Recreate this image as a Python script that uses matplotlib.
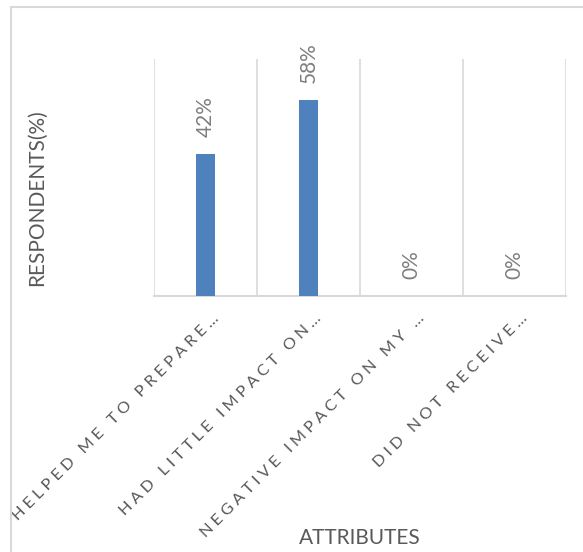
import matplotlib
matplotlib.use("Agg")
import matplotlib.pyplot as plt
from matplotlib.lines import Line2D
from matplotlib.transforms import ScaledTranslation

plt.rcParams['font.family'] = ['Lato', 'DejaVu Sans']

# Survey results
categories = [
    "HELPED ME TO PREPARE…",
    "HAD LITTLE IMPACT ON…",
    "NEGATIVE IMPACT ON MY …",
    "DID NOT RECEIVE…",
]
values = [42, 58, 0, 0]
value_labels = ["42%", "58%", "0%", "0%"]
y_max = 70

W, H = 583, 552
fig = plt.figure(figsize=(W / 100, H / 100), dpi=100)
fig.patch.set_facecolor("white")

# Chart-area frame (top and left edges)
frame_col = "#d9d9d9"
fig.add_artist(Line2D([11 / W, 1.0], [1 - 7 / H, 1 - 7 / H], color=frame_col, lw=1.5,
                      transform=fig.transFigure))
fig.add_artist(Line2D([11 / W, 11 / W], [1 - 7 / H, 0.0], color=frame_col, lw=1.5,
                      transform=fig.transFigure))

ax = fig.add_axes([154 / W, 1 - 296 / H, (566 - 154) / W, (296 - 59) / H])
x = list(range(len(categories)))
bars = ax.bar(x, values, width=0.19, color="#4f81bd", zorder=3)

ax.set_xlim(-0.5, len(categories) - 0.5)
ax.set_ylim(0, y_max)

# Vertical separators between categories
for b in [i - 0.5 for i in range(len(categories) + 1)]:
    ax.axvline(b, color="#d9d9d9", lw=1.2, zorder=1)

for s in ["top", "right", "left"]:
    ax.spines[s].set_visible(False)
ax.spines["bottom"].set_color("#d9d9d9")
ax.spines["bottom"].set_linewidth(1.5)
ax.set_yticks([])

# Letter-spaced category labels
def spaced(t):
    return "\u2009\u2009".join(t)

ax.set_xticks(x)
ax.set_xticklabels([spaced(c) for c in categories], rotation=45, ha="right",
                   va="top", rotation_mode="anchor", fontsize=11.8, color="#595959")
ax.tick_params(axis="x", length=0, pad=11)
shift = ScaledTranslation(6 / 100, 0, fig.dpi_scale_trans)
for lab in ax.get_xticklabels():
    lab.set_transform(lab.get_transform() + shift)

# Value labels above bars
for xi, v, lab in zip(x, values, value_labels):
    ax.annotate(lab, (xi, v), xytext=(0, 17), textcoords="offset pixels",
                rotation=90, ha="center", va="bottom", fontsize=15,
                color="#7f7f7f", annotation_clip=False)

fig.text(37 / W, 1 - 198 / H, "RESPONDENTS(%)", rotation=90, ha="center", va="center",
         fontsize=15, color="#595959")
fig.text(360 / W, 1 - 538 / H, "ATTRIBUTES", ha="center", va="center",
         fontsize=15, color="#595959")

fig.savefig("out.png", dpi=100, facecolor="white")
